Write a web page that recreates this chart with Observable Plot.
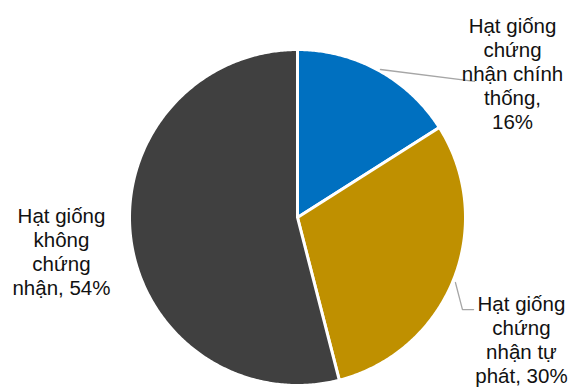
<!DOCTYPE html>
<html>
<head>
<meta charset="utf-8">
<script src="https://cdn.jsdelivr.net/npm/d3@7"></script>
<script src="https://cdn.jsdelivr.net/npm/@observablehq/plot@0.6"></script>
<style>
  html, body { margin: 0; padding: 0; background: #fff; }
  #chart svg { display: block; }
</style>
</head>
<body>
<div id="chart"></div>
<script>
// ---- data ----
const categories = [
  "Hạt giống chứng nhận chính thống",
  "Hạt giống chứng nhận tự phát",
  "Hạt giống không chứng nhận"
];
const values = [16, 30, 54];
const labels = [
  "Hạt giống\nchứng\nnhận chính\nthống,\n16%",
  "Hạt giống\nchứng\nnhận tự\nphát, 30%",
  "Hạt giống\nkhông\nchứng\nnhận, 54%"
];
const colors = ["#0070C0", "#BF9000", "#404040"];

// ---- layout (data units of a unit-radius pie) ----
const labelPos = [[1.28, 0.857], [1.333, -0.726], [-1.405, -0.202]];
const leaders = [
  [[0.494, 0.881], [1.054, 0.810]],
  [[0.940, -0.387], [0.982, -0.548], [1.048, -0.548]]
];

// ---- build slice polygons from pie angles ----
const arcs = d3.pie().sort(null).value(d => d)(values);
const pts = [];
arcs.forEach((a, i) => {
  pts.push({slice: categories[i], x: 0, y: 0});
  const n = Math.max(2, Math.ceil((a.endAngle - a.startAngle) / 0.01));
  for (let k = 0; k <= n; k++) {
    const t = a.startAngle + (a.endAngle - a.startAngle) * k / n;
    pts.push({slice: categories[i], x: Math.sin(t), y: Math.cos(t)});
  }
});
const labelData = labels.map((t, i) => ({text: t, x: labelPos[i][0], y: labelPos[i][1]}));
const leaderData = leaders.flatMap((l, i) => l.map(p => ({id: i, x: p[0], y: p[1]})));

const chart = Plot.plot({
  width: 573,
  height: 387,
  margin: 0,
  x: {domain: [-1, 1], range: [129, 465], axis: null},
  y: {domain: [-1, 1], range: [385, 49], axis: null},
  color: {domain: categories, range: colors},
  style: {fontFamily: "'Liberation Sans', Arial, sans-serif", background: "#fff"},
  marks: [
    Plot.line(pts, {x: "x", y: "y", z: "slice", fill: "slice", stroke: "white",
      strokeWidth: 3, strokeLinejoin: "round", curve: "linear-closed"}),
    Plot.line(leaderData, {x: "x", y: "y", z: "id", stroke: "#a6a6a6", strokeWidth: 1.3}),
    Plot.text(labelData, {x: "x", y: "y", text: "text", fontSize: 20.5,
      lineHeight: 1.17, textAnchor: "middle", lineAnchor: "middle", fill: "#111"})
  ]
});
document.getElementById("chart").appendChild(chart);
</script>
</body>
</html>
